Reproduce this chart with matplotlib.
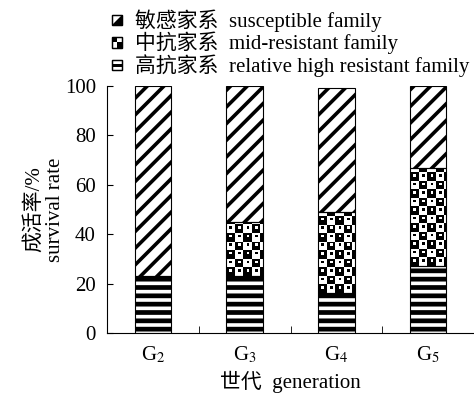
import matplotlib
matplotlib.use("Agg")
import matplotlib.pyplot as plt
import numpy as np
from matplotlib.legend_handler import HandlerBase
from matplotlib.patches import Patch, Polygon, Rectangle

plt.rcParams["font.family"] = ["Liberation Serif", "Noto Sans CJK SC"]
plt.rcParams["mathtext.fontset"] = "stix"

generations = ["G$_2$", "G$_3$", "G$_4$", "G$_5$"]
high_resistant = [23, 23, 16, 27]
mid_resistant = [0, 22, 33, 40]
susceptible = [77, 55, 50, 33]

legend_labels = [
    "敏感家系  susceptible family",
    "中抗家系  mid-resistant family",
    "高抗家系  relative high resistant family",
]

FS = 15
CELL_PX = 8.5


def checker_texture(axis, bar_patch, x0, width, y0, height):
    # pixel size of the bar, so the checks keep a fixed pixel size
    p0 = axis.transData.transform((x0, y0))
    p1 = axis.transData.transform((x0 + width, y0 + height))
    nx = int(np.ceil((p1[0] - p0[0]) / CELL_PX))
    ny = int(np.ceil((p1[1] - p0[1]) / CELL_PX))
    sub = 10
    yy, xx = np.mgrid[0:ny * sub, 0:nx * sub]
    cells = ((yy // sub) + (xx // sub)) % 2
    cy = (yy % sub) - sub * 0.6
    cx = (xx % sub) - sub * 0.5
    dot = (cx ** 2 + cy ** 2) < (sub * 0.17) ** 2
    img = np.where(dot, 1 - cells, cells)
    cw = width * CELL_PX / (p1[0] - p0[0])
    ch = height * CELL_PX / (p1[1] - p0[1])
    im = axis.imshow(
        img, cmap="gray", vmin=0, vmax=1, interpolation="nearest",
        extent=(x0, x0 + nx * cw, y0, y0 + ny * ch), origin="lower",
        aspect="auto", zorder=1.5,
    )
    im.set_clip_path(bar_patch)


class IconHandler(HandlerBase):
    def __init__(self, kind):
        super().__init__()
        self.kind = kind

    def create_artists(self, legend, orig_handle, xdescent, ydescent,
                       width, height, fontsize, trans):
        x0, y0 = -xdescent, -ydescent
        w = h = min(width, height)
        artists = [Rectangle((x0, y0), w, h, facecolor="white",
                             edgecolor="black", lw=0.9, transform=trans)]
        if self.kind == "diag":
            artists.append(Polygon([(x0, y0), (x0 + w, y0), (x0 + w, y0 + h)],
                                   closed=True, facecolor="black",
                                   edgecolor="none", transform=trans))
        elif self.kind == "check":
            artists.append(Rectangle((x0, y0 + h / 2), w / 2, h / 2,
                                     facecolor="black", edgecolor="none",
                                     transform=trans))
            artists.append(Rectangle((x0 + w / 2, y0), w / 2, h / 2,
                                     facecolor="black", edgecolor="none",
                                     transform=trans))
        else:
            artists.append(Rectangle((x0, y0 + h * 0.35), w, h * 0.3,
                                     facecolor="black", edgecolor="none",
                                     transform=trans))
        artists.append(Rectangle((x0, y0), w, h, facecolor="none",
                                 edgecolor="black", lw=0.9, transform=trans))
        return artists


figure = plt.figure(figsize=(4.74, 3.94), dpi=100)
axis = figure.add_axes([107 / 474, 61 / 394, 367 / 474, 247 / 394])

x_positions = np.arange(len(generations))
bar_width = 0.4
high = np.array(high_resistant, dtype=float)
mid = np.array(mid_resistant, dtype=float)
sus = np.array(susceptible, dtype=float)

plt.rcParams["hatch.linewidth"] = 3.4
axis.bar(x_positions, high, bar_width, color="white", edgecolor="black",
         hatch="--", lw=0.8, zorder=2)

mid_bars = axis.bar(x_positions, mid, bar_width, bottom=high, color="white",
                    edgecolor="black", lw=0.8, zorder=2)

plt.rcParams["hatch.linewidth"] = 2.6
axis.bar(x_positions, sus, bar_width, bottom=high + mid, color="white",
         edgecolor="black", hatch="//", lw=0.8, zorder=2)

axis.set_xlim(-0.5, 3.5)
axis.set_ylim(0, 100)

for bar_patch, bottom_value, mid_value in zip(mid_bars.patches, high, mid):
    bar_patch.set_facecolor("none")
    bar_patch.set_zorder(2.5)
    if mid_value > 0:
        checker_texture(axis, bar_patch, bar_patch.get_x(), bar_width,
                        bottom_value, mid_value)

axis.spines["top"].set_visible(False)
axis.spines["right"].set_visible(False)
axis.set_yticks(np.arange(0, 101, 20))
axis.set_xticks(x_positions)
axis.set_xticklabels(generations)
axis.set_xticks(x_positions[:-1] + 0.5, minor=True)
axis.tick_params(axis="x", which="major", length=0, pad=8, labelsize=FS)
axis.tick_params(axis="x", which="minor", direction="in", length=5)
axis.tick_params(axis="y", direction="in", length=4, pad=8, labelsize=FS)

axis.set_xlabel("世代  generation", fontsize=FS, labelpad=4)
axis.set_ylabel("成活率/%\nsurvival rate", fontsize=FS, labelpad=0,
                linespacing=1.15)

proxies = [Patch(), Patch(), Patch()]
figure.legend(
    proxies, legend_labels,
    handler_map={proxies[0]: IconHandler("diag"),
                 proxies[1]: IconHandler("check"),
                 proxies[2]: IconHandler("bar")},
    loc="upper left", bbox_to_anchor=(112 / 474, 1 - 9 / 394),
    frameon=False, prop={"size": 15}, handlelength=0.5, handleheight=0.5,
    handletextpad=0.6, labelspacing=0.0, borderpad=0, borderaxespad=0,
)

figure.savefig("out.png", dpi=100)
